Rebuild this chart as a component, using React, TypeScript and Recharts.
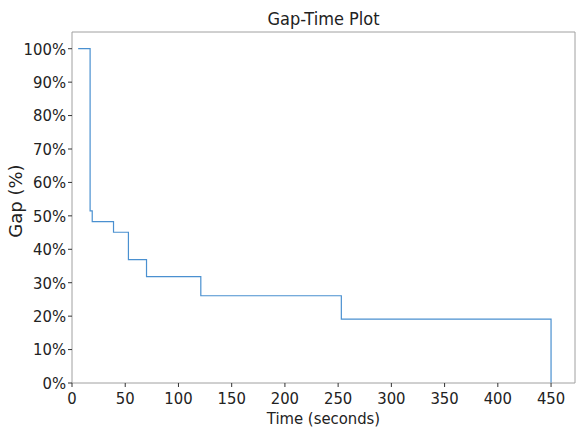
import { LineChart, Line, XAxis, YAxis, ReferenceLine, Label } from 'recharts'

const times = [5.8, 17, 19, 39, 53, 70, 121, 253, 450]
const gaps = [100, 51.5, 48.3, 45.1, 36.9, 31.8, 26.1, 19.1, 0]
const xTicks = [0, 50, 100, 150, 200, 250, 300, 350, 400, 450]
const yTicks = [0, 10, 20, 30, 40, 50, 60, 70, 80, 90, 100]

const FONT = "'DejaVu Sans Condensed', 'DejaVu Sans', sans-serif"
const SPINE = '#a0a0a0'

const data = times.map((t, i) => ({ t, gap: gaps[i] }))

const tickStyle = { fontFamily: FONT, fontStretch: 'condensed', fontSize: 16.5, fill: '#222' }

export default function App() {
  return (
    <div style={{ position: 'absolute', left: 0, top: 0, width: 576, height: 428, background: '#fff' }}>
      <div
        style={{
          position: 'absolute', left: 72, width: 503, top: 8, textAlign: 'center',
          fontFamily: FONT, fontStretch: 'condensed', fontSize: 18, color: '#222',
        }}
      >
        Gap-Time Plot
      </div>
      <LineChart width={576} height={428} data={data} margin={{ top: 32, right: 1, bottom: 15, left: 0 }}>
        <XAxis
          dataKey="t"
          type="number"
          domain={[0, 472.5]}
          ticks={xTicks}
          interval={0}
          stroke={SPINE}
          tickLine={{ stroke: '#333' }}
          tickSize={4}
          tickMargin={5}
          tick={tickStyle}
          height={30}
        >
          <Label
            value="Time (seconds)"
            position="insideBottom"
            offset={-11}
            style={{ fontFamily: FONT, fontStretch: 'condensed', fontSize: 16.5, fill: '#222' }}
          />
        </XAxis>
        <YAxis
          type="number"
          domain={[0, 105]}
          ticks={yTicks}
          interval={0}
          tickFormatter={(v) => `${v}%`}
          stroke={SPINE}
          tickLine={{ stroke: '#333' }}
          tickSize={4}
          tick={tickStyle}
          width={72}
        >
          <Label
            content={() => (
              <text
                transform="translate(22,201) rotate(-90)"
                textAnchor="middle"
                fontFamily="'DejaVu Sans', sans-serif"
                fontSize={18}
                fill="#222"
              >
                Gap (%)
              </text>
            )}
          />
        </YAxis>
        <ReferenceLine y={105} stroke={SPINE} ifOverflow="extendDomain" />
        <ReferenceLine x={472.5} stroke={SPINE} ifOverflow="extendDomain" />
        <Line
          type="stepAfter"
          dataKey="gap"
          stroke="#4a90d0"
          strokeWidth={1.2}
          dot={false}
          isAnimationActive={false}
        />
      </LineChart>
    </div>
  )
}
